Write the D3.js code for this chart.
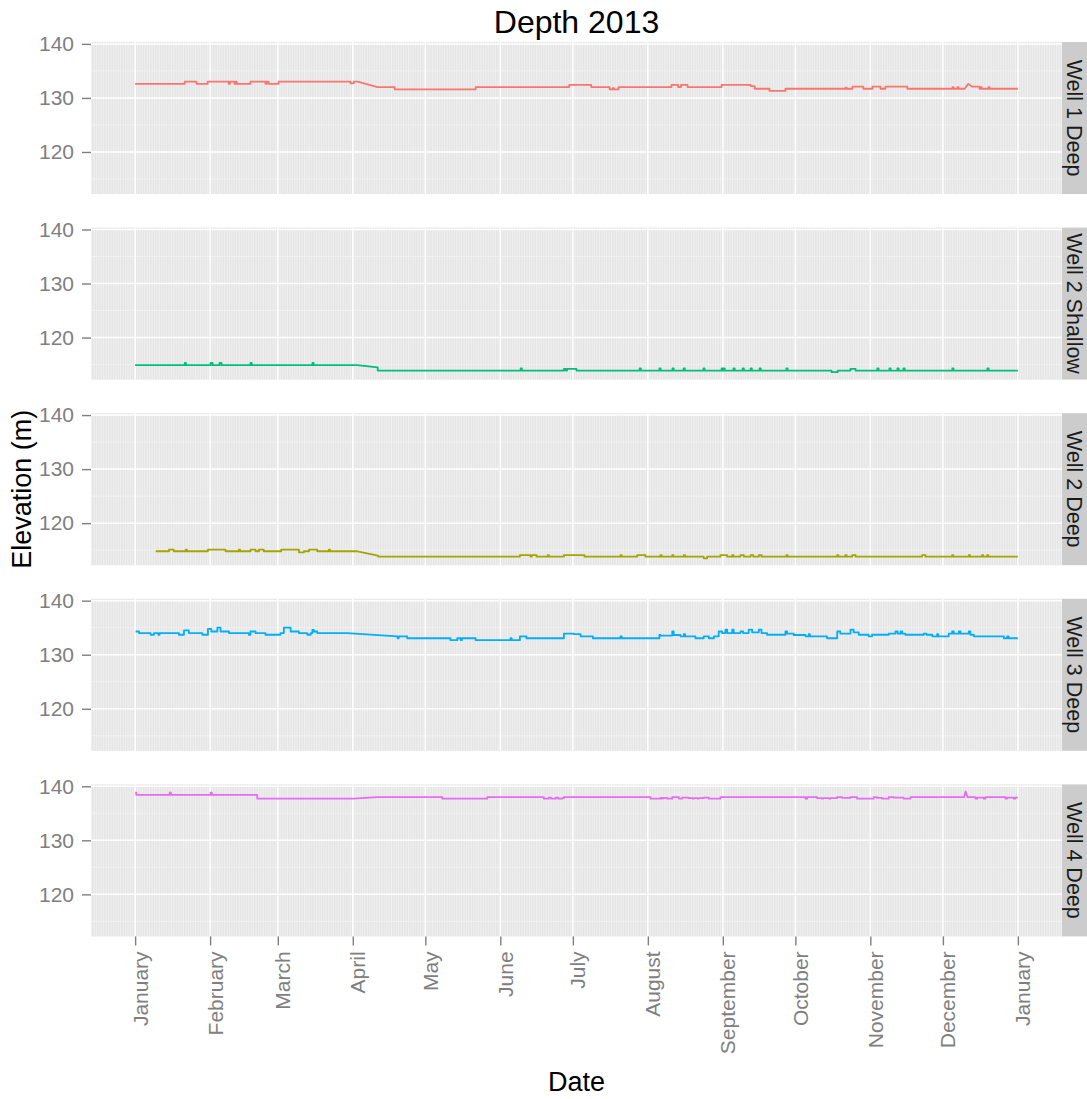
<!DOCTYPE html>
<html>
<head>
<meta charset="utf-8">
<script src="https://cdn.jsdelivr.net/npm/d3@7"></script>
<style>
  body { margin: 0; background: #fff; }
  text { font-family: "Liberation Sans", Arial, Helvetica, sans-serif; }
</style>
</head>
<body>
<svg id="chart-display" width="1087" height="1099"></svg>
<script>
// facet order, top to bottom
const wells = ["Well 1 Deep", "Well 2 Shallow", "Well 2 Deep", "Well 3 Deep", "Well 4 Deep"];
const yTicks = [120, 130, 140];
const yMinorTicks = [115, 125, 135];
const year = 2013;

// readings as [day of year, elevation]; the value holds until the next entry.
// a third field "r" means the logger drifted linearly from the previous reading.
const well1Deep = [
    [0, 132.6], [20.5, 133.0], [25.4, 132.6], [30, 133.0], [38.7, 132.6], [39.2, 133.0], [41.1, 132.6],
    [41.6, 133.0], [42, 132.6], [47.7, 133.0], [53.9, 132.6], [54.4, 133.0], [55.2, 132.6], [59.3, 133.0],
    [89.1, 132.7], [90.4, 133.0], [92, 133.0], [100.2, 132.0, "r"], [107.3, 131.6], [140.8, 132.0],
    [179.5, 132.4], [188.6, 132.0], [196.2, 131.6], [197.5, 131.8], [198, 131.6], [199.9, 132.0],
    [221.8, 132.4], [224.5, 132.0], [225.7, 132.4], [228.4, 132.0], [242.5, 132.4], [254.5, 132.2],
    [256.2, 131.7], [262.3, 131.3], [268.9, 131.7], [293.7, 131.9], [294.2, 131.7], [296.6, 132.1],
    [301.1, 131.7], [304.9, 132.1], [308.2, 131.7], [310.2, 132.1], [319.3, 131.7], [338, 132.0],
    [338.4, 131.7], [340, 132.0], [340.4, 131.7], [343, 131.7], [344.5, 132.6, "r"], [346, 132.1, "r"],
    [349.1, 131.7], [349.6, 132.0], [350, 131.7], [352.9, 132.0], [353.3, 131.7], [365, 131.7]
];
const well2Shallow = [
    [0, 114.9], [20.5, 115.3], [21, 114.9], [31.2, 115.3], [32, 114.9], [34.9, 115.3], [35.7, 114.9],
    [47.7, 115.3], [48.2, 114.9], [73.3, 115.3], [73.8, 114.9], [91.9, 114.9], [100.2, 114.5, "r"],
    [100.3, 113.9], [159.4, 114.3], [159.9, 113.9], [177.3, 114.2], [178, 113.9], [178.6, 114.2],
    [182.5, 113.9], [208.6, 114.3], [209.1, 113.9], [216.8, 114.3], [217.3, 113.9], [222.2, 114.3],
    [222.7, 113.9], [226.8, 114.3], [227.3, 113.9], [235, 114.3], [235.5, 113.9], [242.5, 114.3],
    [243, 113.9], [243.3, 114.3], [243.8, 113.9], [247.4, 114.3], [247.9, 113.9], [251.2, 114.3],
    [251.7, 113.9], [254.5, 114.3], [255, 113.9], [258.2, 114.3], [258.7, 113.9], [269.3, 114.3],
    [269.8, 113.9], [288, 113.6], [290.5, 113.9], [295.8, 114.2], [297.9, 113.9], [306.9, 114.3],
    [307.4, 113.9], [311.9, 114.3], [312.4, 113.9], [315.2, 114.3], [315.7, 113.9], [317.7, 114.3],
    [318.2, 113.9], [337.9, 114.3], [338.4, 113.9], [352.4, 114.3], [352.9, 113.9], [365, 113.9]
];
const well2Deep = [
    [8.5, 114.8], [14, 115.1], [16, 114.8], [20.9, 115.1], [21.4, 114.8], [30.1, 115.1], [37.4, 114.8],
    [42.9, 115.1], [43.4, 114.8], [47.7, 115.1], [49.8, 114.8], [51.2, 115.1], [53.2, 114.8],
    [60.4, 115.1], [67.7, 114.6], [69.8, 114.8], [71.9, 115.1], [75.3, 114.8], [80.1, 115.1],
    [80.6, 114.8], [91.9, 114.8], [100.4, 114.0, "r"], [100.5, 113.8], [159.1, 114.1], [163.5, 113.8],
    [164, 114.1], [166, 113.8], [170.6, 114.1], [171.1, 113.8], [177.3, 114.1], [185.8, 113.8],
    [200.7, 114.1], [201.2, 113.8], [207.6, 114.1], [211, 113.8], [217.2, 114.1], [217.7, 113.8],
    [222.1, 114.1], [222.6, 113.8], [226.9, 114.1], [227.4, 113.8], [235.1, 113.5], [236.5, 113.8],
    [242, 114.1], [244.8, 113.8], [246.9, 114.1], [247.4, 113.8], [250.3, 114.1], [251.7, 113.8],
    [254.5, 114.1], [255.6, 113.8], [257.9, 114.1], [259, 113.8], [269.3, 114.1], [269.8, 113.8],
    [290.3, 114.1], [290.8, 113.8], [293.7, 114.1], [294.2, 113.8], [296.5, 114.1], [297.9, 113.8],
    [325.4, 114.1], [326.8, 113.8], [337.8, 114.1], [338.3, 113.8], [344.7, 114.1], [345.2, 113.8],
    [350.2, 114.1], [350.7, 113.8], [352.3, 114.1], [352.8, 113.8], [365, 113.8]
];
const well3Deep = [
    [0.2, 134.3], [1.6, 134.0], [6.4, 133.7], [7.8, 134.0], [9.6, 133.7], [10.1, 134.0], [18.1, 133.7],
    [20.2, 134.5], [22.2, 134.0], [27.8, 133.7], [30.1, 134.8], [31.5, 134.3], [34, 135.0], [35.3, 134.3],
    [38.8, 134.0], [47, 133.7], [47.7, 134.3], [49.8, 134.0], [53.9, 133.7], [60.1, 134.0], [61.5, 135.0],
    [64.3, 134.3], [67.7, 134.0], [71.2, 133.7], [72.6, 134.0], [73.3, 134.6], [73.9, 134.3], [75.3, 134.0],
    [87.7, 134.0], [108.4, 133.4, "r"], [108.5, 133.05], [109, 133.4], [112.5, 133.05], [130.4, 132.7],
    [133.2, 133.05], [134.6, 132.7], [135.1, 133.05], [140.8, 132.7], [155.2, 133.05], [155.7, 132.7],
    [159.1, 133.4], [161.8, 133.05], [177.3, 133.9], [181.4, 133.8], [184.2, 133.4], [189.3, 133.05],
    [200.7, 133.4], [201.2, 133.05], [216.8, 133.65], [217.2, 133.55], [222.1, 134.3], [222.7, 133.65],
    [225.5, 133.4], [226.9, 133.8], [227.4, 133.4], [231.7, 133.05], [235.1, 133.4], [237.2, 133.05],
    [239.3, 133.4], [241.3, 134.3], [242.7, 134.0], [244.1, 134.65], [244.8, 134.0], [246.9, 134.65],
    [247.5, 134.0], [250.3, 134.3], [251.4, 134.0], [253.7, 134.65], [255.1, 134.15], [257.9, 134.65],
    [259, 134.0], [261.3, 133.7], [268.9, 134.3], [269.6, 133.9], [272.3, 133.65], [277.2, 133.4],
    [278.5, 133.8], [279, 133.4], [286.1, 133.05], [290.3, 134.3], [291.6, 133.9], [295.8, 134.65],
    [297.1, 134.15], [299.2, 133.7], [303.3, 133.4], [304.7, 133.7], [311.6, 133.9], [314.4, 134.3],
    [315.3, 133.9], [316.5, 134.3], [317.2, 133.9], [318.5, 133.7], [326.1, 133.9], [327.2, 133.7],
    [329.6, 133.4], [331.6, 133.8], [332.1, 133.4], [336.4, 133.9], [337.8, 134.3], [338.5, 133.9],
    [340.6, 134.3], [341.3, 133.9], [344.7, 134.3], [345.4, 133.7], [346.8, 133.4], [359.2, 133.05],
    [360.6, 133.4], [361.2, 133.05], [365, 133.05]
];
const well4Deep = [
    [0, 138.8], [0.5, 138.4], [14.3, 138.8], [14.8, 138.4], [31.2, 138.8], [31.7, 138.4], [50.5, 137.7],
    [90.4, 137.7], [100.1, 138.0, "r"], [127, 137.7], [145.6, 138.0], [169, 137.7], [171, 137.9],
    [172, 137.7], [174, 137.9], [175, 137.7], [176.6, 137.8], [177.3, 138.0], [213.1, 137.7],
    [217.2, 137.85], [217.7, 137.7], [218.2, 137.85], [220, 137.7], [222.1, 138.0], [224.8, 137.7],
    [226.2, 137.9], [228.9, 137.8], [230.6, 137.7], [231, 137.8], [232.6, 137.7], [233, 137.8],
    [235.1, 137.9], [237.2, 137.7], [242, 138.0], [277.2, 137.7], [277.9, 138.0], [282, 137.8],
    [284, 137.7], [284.5, 137.8], [287, 137.7], [287.5, 137.8], [290.3, 138.0], [292.3, 137.85],
    [295.8, 138.0], [298.5, 137.7], [305.4, 138.0], [306.8, 137.85], [308.9, 137.7], [311.6, 138.0],
    [313.7, 137.9], [317.8, 137.7], [320.6, 138.0], [342.8, 138.0], [343.4, 139.07, "r"],
    [344.2, 138.0, "r"], [347.5, 137.7], [348.2, 137.9], [350.9, 137.7], [351.6, 138.0], [359.9, 137.7],
    [360.5, 137.9], [363.3, 137.7], [363.9, 137.9], [365, 137.9]
];
const readings = [well1Deep, well2Shallow, well2Deep, well3Deep, well4Deep];

viewFacetLines = {
    init: function() {
        this.svg = d3.select("#chart-display");

        const margin = {top: 42, left: 91},
            width = 971,
            panelHeight = 152,
            panelStep = 185.6,
            stripWidth = 25;

        const t0 = Date.UTC(year, 0, 1),
            toDate = (day) => new Date(t0 + day * 864e5);

        // turn change points into a drawable path: steps become vertical jumps
        const series = wells.map((name, i) => {
            const pts = [];
            readings[i].forEach((r, j) => {
                const [day, value, kind] = r;
                if (j > 0 && kind !== "r") pts.push({date: toDate(day), value: pts[pts.length - 1].value});
                pts.push({date: toDate(day), value: value});
            });
            return {name, pts};
        });

        // ggplot style 5% expansion on both scales
        const all = series.flatMap((s) => s.pts),
            [d0, d1] = d3.extent(all, (p) => +p.date),
            [v0, v1] = d3.extent(all, (p) => p.value),
            dx = (d1 - d0) * 0.05,
            dv = (v1 - v0) * 0.05;

        const xScale = d3.scaleUtc()
                .domain([new Date(d0 - dx), new Date(d1 + dx)])
                .range([0, width]),
            yScale = d3.scaleLinear()
                .domain([v0 - dv, v1 + dv])
                .range([panelHeight, 0]),
            color = d3.scaleOrdinal()
                .domain(wells.slice().sort())
                .range(["#F8766D", "#A3A500", "#00BF7D", "#00B0F6", "#E76BF3"]);

        this.dim = { margin, width, panelHeight, panelStep, stripWidth };
        this.util = { xScale, yScale, color };
        this.series = series;
    },
    render: function() {
        this.svg.selectAll("*").remove();

        const { margin, width, panelHeight, panelStep, stripWidth } = this.dim,
            { xScale, yScale, color } = this.util,
            months = d3.utcMonth.range(...xScale.domain()),
            days = d3.utcDay.range(...xScale.domain());

        const line = d3.line()
            .x((p) => xScale(p.date))
            .y((p) => yScale(p.value));

        const panels = this.svg.selectAll("g.panel")
            .data(this.series)
            .enter().append("g")
            .attr("class", "panel")
            .attr("transform", (d, i) => `translate(${margin.left},${margin.top + i * panelStep})`);

        panels.append("rect")
            .attr("width", width)
            .attr("height", panelHeight)
            .style("fill", "#e5e5e5");

        // minor grid: daily verticals and half-way horizontals
        panels.append("g")
            .selectAll("line")
            .data(days)
            .enter().append("line")
            .attr("x1", (d) => xScale(d)).attr("x2", (d) => xScale(d))
            .attr("y1", 0).attr("y2", panelHeight)
            .style("stroke", "#f2f2f2")
            .style("stroke-width", 0.8);

        panels.append("g")
            .selectAll("line")
            .data(yMinorTicks)
            .enter().append("line")
            .attr("x1", 0).attr("x2", width)
            .attr("y1", (d) => yScale(d)).attr("y2", (d) => yScale(d))
            .style("stroke", "#f2f2f2")
            .style("stroke-width", 0.8);

        // major grid
        panels.append("g")
            .selectAll("line")
            .data(months)
            .enter().append("line")
            .attr("x1", (d) => xScale(d)).attr("x2", (d) => xScale(d))
            .attr("y1", 0).attr("y2", panelHeight)
            .style("stroke", "#fff")
            .style("stroke-width", 1.5);

        panels.append("g")
            .selectAll("line")
            .data(yTicks)
            .enter().append("line")
            .attr("x1", 0).attr("x2", width)
            .attr("y1", (d) => yScale(d)).attr("y2", (d) => yScale(d))
            .style("stroke", "#fff")
            .style("stroke-width", 1.5);

        panels.append("path")
            .attr("d", (d) => line(d.pts))
            .style("fill", "none")
            .style("stroke", (d) => color(d.name))
            .style("stroke-width", 1.8)
            .style("stroke-linejoin", "round");

        // strips on the right
        panels.append("rect")
            .attr("x", width)
            .attr("width", stripWidth)
            .attr("height", panelHeight)
            .style("fill", "#cccccc");

        panels.append("text")
            .attr("transform", `translate(${width + stripWidth / 2},${panelHeight / 2}) rotate(90)`)
            .attr("dy", "0.35em")
            .style("text-anchor", "middle")
            .style("font-size", "21.5px")
            .style("fill", "#1a1a1a")
            .text((d) => d.name);

        // y axis for each panel
        panels.append("g")
            .attr("class", "y axis")
            .each(function() {
                d3.select(this).call(d3.axisLeft(yScale).tickValues(yTicks).tickSize(9).tickPadding(8));
            });

        // x axis under the last panel
        const last = margin.top + (wells.length - 1) * panelStep + panelHeight;
        this.svg.append("g")
            .attr("class", "x axis")
            .attr("transform", `translate(${margin.left},${last})`)
            .call(d3.axisBottom(xScale).tickValues(months).tickFormat(d3.utcFormat("%B")).tickSize(9))
            .selectAll("text")
            .attr("transform", "rotate(-90)")
            .attr("x", -15)
            .attr("y", 12)
            .attr("dy", 0)
            .style("text-anchor", "end");

        this.svg.selectAll(".axis .domain").remove();
        this.svg.selectAll(".axis line")
            .style("stroke", "#7f7f7f")
            .style("stroke-width", 1.4);
        this.svg.selectAll(".axis text")
            .style("fill", "#7f7f7f")
            .style("font-size", "21px")
            .style("font-family", "'Liberation Sans', Arial, sans-serif");

        // titles
        this.svg.append("text")
            .attr("x", margin.left + width / 2)
            .attr("y", 33)
            .style("text-anchor", "middle")
            .style("font-size", "32px")
            .text("Depth " + year);

        this.svg.append("text")
            .attr("x", margin.left + width / 2)
            .attr("y", 1091)
            .style("text-anchor", "middle")
            .style("font-size", "27px")
            .text("Date");

        this.svg.append("text")
            .attr("transform", `translate(31,${(margin.top + last) / 2}) rotate(-90)`)
            .style("text-anchor", "middle")
            .style("font-size", "27px")
            .text("Elevation (m)");
    }
}

viewFacetLines.init();
viewFacetLines.render();
</script>
</body>
</html>
